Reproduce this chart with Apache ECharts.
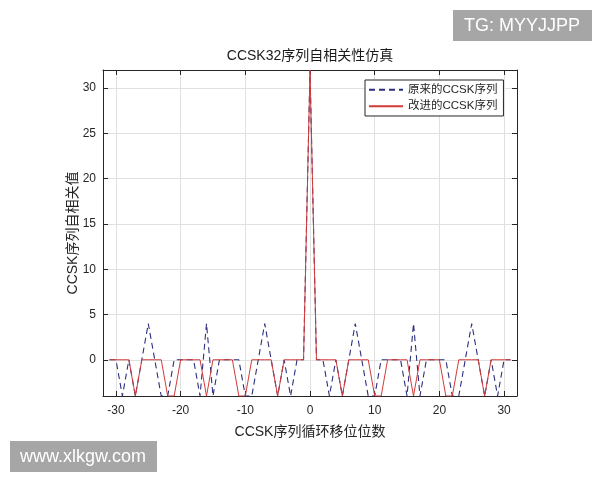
<!DOCTYPE html>
<html>
<head>
<meta charset="utf-8">
<script src="https://cdn.jsdelivr.net/npm/echarts@6/dist/echarts.min.js"></script>
<style>html,body{margin:0;padding:0;background:#fff}#c{width:600px;height:480px}</style>
</head>
<body>
<div id="c"></div>
<script>
// ---- data ----
const lags = [-31,-30,-29,-28,-27,-26,-25,-24,-23,-22,-21,-20,-19,-18,-17,-16,-15,-14,-13,-12,-11,-10,-9,-8,-7,-6,-5,-4,-3,-2,-1,0,1,2,3,4,5,6,7,8,9,10,11,12,13,14,15,16,17,18,19,20,21,22,23,24,25,26,27,28,29,30,31];
const originalSeq = [0,0,-4,0,-4,0,4,0,-4,-4,0,0,0,0,-4,4,-4,0,0,0,0,-4,-4,0,4,0,-4,0,-4,0,0,32,0,0,-4,0,-4,0,4,0,-4,-4,0,0,0,0,-4,4,-4,0,0,0,0,-4,-4,0,4,0,-4,0,-4,0,0];
const improvedSeq = [0,0,0,0,-4,0,0,0,0,-4,-4,0,0,0,0,-4,0,0,0,0,-4,-4,0,0,0,0,-4,0,0,0,0,32,0,0,0,0,-4,0,0,0,0,-4,-4,0,0,0,0,-4,0,0,0,0,-4,-4,0,0,0,0,-4,0,0,0,0];
const xTicks = [-30,-20,-10,0,10,20,30];
const yTicks = [0,5,10,15,20,25,30];
const seriesNames = ['原来的CCSK序列','改进的CCSK序列'];
const titleText = 'CCSK32序列自相关性仿真';
const xLabel = 'CCSK序列循环移位位数';
const yLabel = 'CCSK序列自相关值';
const watermarkTop = 'TG: MYYJJPP';
const watermarkBottom = 'www.xlkgw.com';

// ---- chart ----
const FF = '"Liberation Sans", Arial, "Noto Sans CJK SC", sans-serif';
const AX = '#262626';
const chart = echarts.init(document.getElementById('c'), null, {renderer: 'canvas'});

function mkAxis(kind, position, main) {
  const isX = kind === 'x';
  const ticks = isX ? xTicks : yTicks;
  const a = {
    type: 'value',
    position: position,
    min: isX ? -32 : -4,
    max: isX ? 32 : 32,
    axisLine: {show: true, onZero: false, lineStyle: {color: AX, width: 1}},
    axisTick: {show: true, inside: true, length: 5, customValues: ticks, lineStyle: {color: AX, width: 1}},
    axisLabel: {show: main, customValues: ticks, color: AX, fontSize: 12, fontFamily: FF, margin: isX ? 9 : 7},
    splitLine: {show: main, lineStyle: {color: '#e0e0e0', width: 1}}
  };
  if (main) {
    a.name = isX ? xLabel : yLabel;
    a.nameLocation = 'middle';
    a.nameGap = isX ? 29 : 23;
    a.nameMoveOverlap = false;
    a.nameTextStyle = {color: AX, fontSize: 14, fontFamily: FF};
  }
  return a;
}

const option = {
  animation: false,
  backgroundColor: '#fff',
  grid: {left: 103, right: 83, top: 70, bottom: 84, containLabel: false},
  xAxis: [mkAxis('x', 'bottom', true), mkAxis('x', 'top', false)],
  yAxis: [mkAxis('y', 'left', true), mkAxis('y', 'right', false)],
  legend: {
    show: true,
    orient: 'vertical',
    left: 365,
    top: 80,
    itemWidth: 34,
    itemHeight: 10,
    itemGap: 5,
    padding: [4, 6, 4, 3],
    borderColor: AX,
    borderWidth: 1,
    backgroundColor: '#fff',
    itemStyle: {opacity: 0},
    textStyle: {color: AX, fontSize: 11.5, fontFamily: FF},
    data: seriesNames
  },
  series: [
    {
      name: seriesNames[0], type: 'line', symbol: 'none',
      xAxisIndex: 0, yAxisIndex: 0,
      lineStyle: {color: '#2b2f7e', width: 1.1, type: [6, 4]},
      itemStyle: {color: '#2b2f7e'},
      data: lags.map((x, i) => [x, originalSeq[i]])
    },
    {
      name: seriesNames[1], type: 'line', symbol: 'none',
      xAxisIndex: 0, yAxisIndex: 0,
      lineStyle: {color: '#d23a3a', width: 1},
      itemStyle: {color: '#d23a3a'},
      data: lags.map((x, i) => [x, improvedSeq[i]])
    }
  ],
  graphic: [
    {type: 'text', x: 310, y: 56, style: {text: titleText, font: '14px ' + FF, fill: '#1a1a1a', align: 'center', verticalAlign: 'middle'}},
    {type: 'rect', shape: {x: 453, y: 10, width: 139, height: 31}, style: {fill: '#a6a6a6'}},
    {type: 'text', x: 522, y: 26, style: {text: watermarkTop, font: '18px ' + FF, fill: '#fff', align: 'center', verticalAlign: 'middle'}},
    {type: 'rect', shape: {x: 10, y: 441, width: 147, height: 31}, style: {fill: '#a6a6a6'}},
    {type: 'text', x: 83, y: 457, style: {text: watermarkBottom, font: '18px ' + FF, fill: '#fff', align: 'center', verticalAlign: 'middle'}}
  ]
};
chart.setOption(option);
</script>
</body>
</html>
